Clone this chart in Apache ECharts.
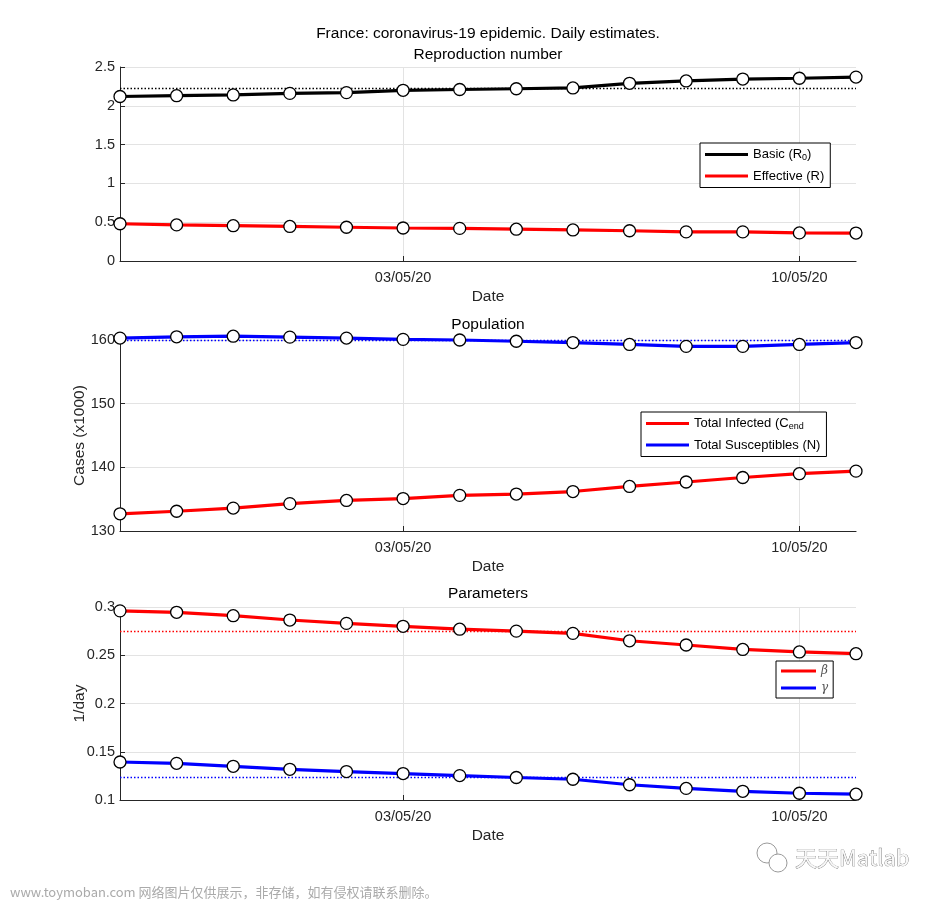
<!DOCTYPE html>
<html>
<head>
<meta charset="utf-8">
<script src="https://cdn.jsdelivr.net/npm/echarts@6/dist/echarts.min.js"></script>
<style>html,body{margin:0;padding:0;background:#fff}#c{width:945px;height:900px}</style>
</head>
<body>
<div id="c"></div>
<script>
// ---- data ----
const dates = ['28/04/20','29/04/20','30/04/20','01/05/20','02/05/20','03/05/20','04/05/20',
               '05/05/20','06/05/20','07/05/20','08/05/20','09/05/20','10/05/20','11/05/20'];
const tickLabels = ['03/05/20','10/05/20'];

const basicR0     = [2.12,2.13,2.14,2.16,2.17,2.20,2.21,2.22,2.23,2.29,2.32,2.345,2.355,2.37];
const effectiveR  = [0.48,0.465,0.455,0.445,0.435,0.425,0.42,0.41,0.40,0.39,0.375,0.375,0.362,0.36];
const basicR0Mean = 2.23;

const totalInfected    = [132.7,133.1,133.6,134.3,134.8,135.1,135.6,135.8,136.2,137.0,137.7,138.4,139.0,139.4];
const totalSusceptible = [160.3,160.5,160.6,160.45,160.3,160.1,160.0,159.8,159.6,159.3,159.0,159.0,159.3,159.6];
const susceptibleMean  = 160.0;

const beta  = [0.296,0.2945,0.291,0.2865,0.283,0.280,0.277,0.275,0.2727,0.265,0.2606,0.256,0.2534,0.2516];
const gamma = [0.1394,0.138,0.1349,0.1318,0.1295,0.1274,0.1253,0.1233,0.1215,0.1158,0.112,0.109,0.107,0.106];
const betaMean  = 0.2748;
const gammaMean = 0.1236;

// ---- chart ----
const FONT = 'Liberation Sans, Arial, sans-serif';
const AX = '#262626';
const GRIDC = '#e3e3e3';
const showTick = (i, v) => tickLabels.indexOf(dates[i]) >= 0;

function xAxis(gi){
  return {
    type:'category', gridIndex:gi, data:dates, boundaryGap:false,
    axisLine:{show:true, onZero:false, lineStyle:{color:AX, width:1.2}},
    axisTick:{show:true, inside:true, length:5, interval:showTick, lineStyle:{color:AX}},
    axisLabel:{interval:showTick, color:AX, fontFamily:FONT, fontSize:14.5, margin:9},
    splitLine:{show:true, interval:showTick, lineStyle:{color:GRIDC, width:1}},
    name:'Date', nameLocation:'middle', nameGap:28, nameMoveOverlap:false,
    nameTextStyle:{color:AX, fontFamily:FONT, fontSize:15.5}
  };
}
function yAxis(gi, min, max, interval, name){
  const a = {
    type:'value', gridIndex:gi, min:min, max:max, interval:interval,
    axisLine:{show:true, lineStyle:{color:AX, width:1}},
    axisTick:{show:true, inside:true, length:5, lineStyle:{color:AX}},
    axisLabel:{color:AX, fontFamily:FONT, fontSize:14.5, margin:5},
    splitLine:{show:true, lineStyle:{color:GRIDC, width:1}}
  };
  if (name){
    a.name = name; a.nameLocation = 'middle'; a.nameGap = 32; a.nameRotate = 90;
    a.nameMoveOverlap = false;
    a.nameTextStyle = {color:AX, fontFamily:FONT, fontSize:15.5};
  }
  return a;
}
function line(name, data, color, gi, mean){
  const s = {
    name:name, type:'line', xAxisIndex:gi, yAxisIndex:gi, data:data,
    clip:false, symbol:'circle', symbolSize:12, showSymbol:true,
    lineStyle:{color:color, width:3.2},
    itemStyle:{color:'#ffffff', borderColor:'#000000', borderWidth:1.3},
    emphasis:{disabled:true}, z:3
  };
  if (mean !== undefined){
    s.markLine = {
      silent:true, symbol:['none','none'], label:{show:false}, precision:6,
      lineStyle:{color:color, type:[1.5,2], width:1.3},
      data:[{yAxis:mean}], z:1
    };
  }
  return s;
}
function legendItem(name, color){
  return {name:name, icon:'rect', itemStyle:{color:color, borderWidth:0}};
}
const legendBase = {
  orient:'vertical', backgroundColor:'#fff', borderColor:'#000', borderWidth:1,
  itemWidth:43, itemHeight:3, selectedMode:false
};

const chart = echarts.init(document.getElementById('c'), null, {renderer:'canvas'});
chart.setOption({
  animation:false,
  backgroundColor:'#fff',
  graphic:[
    {type:'text', style:{text:'France: coronavirus-19 epidemic. Daily estimates.', x:488, y:34, textAlign:'center', textVerticalAlign:'middle', font:'15.5px '+FONT, fill:'#000'}},
    {type:'text', style:{text:'Reproduction number', x:488, y:55, textAlign:'center', textVerticalAlign:'middle', font:'15.5px '+FONT, fill:'#000'}},
    {type:'text', style:{text:'Population', x:488, y:325, textAlign:'center', textVerticalAlign:'middle', font:'15.5px '+FONT, fill:'#000'}},
    {type:'text', style:{text:'Parameters', x:488, y:594, textAlign:'center', textVerticalAlign:'middle', font:'15.5px '+FONT, fill:'#000'}},
    {type:'text', style:{text:'www.toymoban.com 网络图片仅供展示，非存储，如有侵权请联系删除。', x:10, y:892, textAlign:'left', textVerticalAlign:'middle', font:'13px "Noto Sans CJK SC", sans-serif', fill:'#aaaaaa'}},
    {type:'text', style:{text:'天天Matlab', x:795, y:858, textAlign:'left', textVerticalAlign:'middle', font:'22px "Noto Sans CJK SC", sans-serif', fill:'#f8f8f8', stroke:'#6a6a6a', lineWidth:0.7}},
    {type:'circle', shape:{cx:767, cy:853, r:10}, style:{fill:'#fff', stroke:'#9a9a9a', lineWidth:1}},
    {type:'circle', shape:{cx:778, cy:863, r:9}, style:{fill:'#fff', stroke:'#9a9a9a', lineWidth:1}}
  ],
  grid:[
    {left:120, right:89, top:67, height:194},
    {left:120, right:89, top:340, height:191},
    {left:120, right:89, top:607, height:193}
  ],
  xAxis:[xAxis(0), xAxis(1), xAxis(2)],
  yAxis:[
    yAxis(0, 0, 2.5, 0.5),
    yAxis(1, 130, 160, 10, 'Cases (x1000)'),
    yAxis(2, 0.1, 0.3, 0.05, '1/day')
  ],
  legend:[
    Object.assign({}, legendBase, {
      left:700, top:143, padding:[5,6,5,5], itemGap:7,
      data:[legendItem('R0','#000'), legendItem('R','#ff0000')],
      formatter:n => n === 'R0' ? '{a|Basic (R}{s|0}{a|)}' : '{a|Effective (R)}',
      textStyle:{color:'#000', fontFamily:FONT, fontSize:13,
        rich:{a:{fontFamily:FONT, fontSize:13, color:'#000'}, s:{fontFamily:FONT, fontSize:9, color:'#000', padding:[7,0,0,0]}}}
    }),
    Object.assign({}, legendBase, {
      left:641, top:412, padding:[5,6,5,5], itemGap:7,
      data:[legendItem('Cend','#ff0000'), legendItem('N','#0000ff')],
      formatter:n => n === 'Cend' ? '{a|Total Infected (C}{s|end}' : '{a|Total Susceptibles (N)}',
      textStyle:{color:'#000', fontFamily:FONT, fontSize:13,
        rich:{a:{fontFamily:FONT, fontSize:13, color:'#000'}, s:{fontFamily:FONT, fontSize:9, color:'#000', padding:[7,0,0,0]}}}
    }),
    Object.assign({}, legendBase, {
      left:776, top:661, padding:[4,5,4,5], itemGap:5, itemWidth:35,
      data:[legendItem('β','#ff0000'), legendItem('γ','#0000ff')],
      textStyle:{color:'#555', fontFamily:'DejaVu Serif, serif', fontStyle:'italic', fontSize:12}
    })
  ],
  series:[
    line('R0', basicR0, '#000000', 0, basicR0Mean),
    line('R', effectiveR, '#ff0000', 0),
    line('Cend', totalInfected, '#ff0000', 1),
    line('N', totalSusceptible, '#0000ff', 1, susceptibleMean),
    line('β', beta, '#ff0000', 2, betaMean),
    line('γ', gamma, '#0000ff', 2, gammaMean)
  ]
});
</script>
</body>
</html>
